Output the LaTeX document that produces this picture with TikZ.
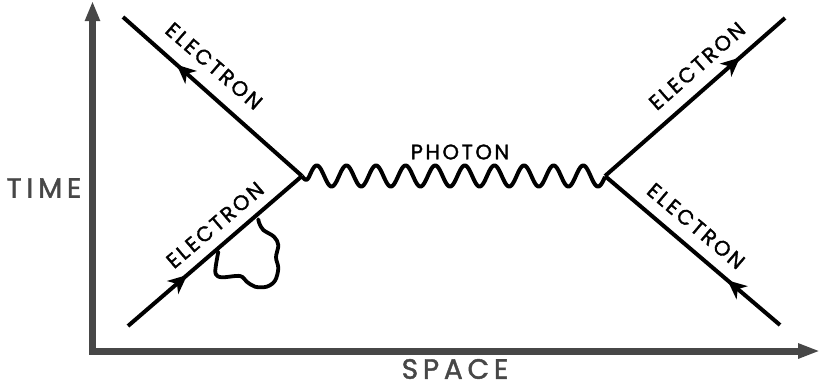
\documentclass[tikz,border=0pt]{standalone}
\usepackage{fontspec}
\setmainfont{Poppins}
\usetikzlibrary{arrows.meta,decorations.markings}
\newfontfamily\lblfont[LetterSpace=12,FakeBold=1.5]{Poppins}
\newfontfamily\axfont[LetterSpace=17,FakeBold=1.5]{Poppins}
\definecolor{axisgray}{HTML}{474747}
\begin{document}
\begin{tikzpicture}[x=1pt,y=-1pt,
 electron/.style={line width=4pt, black},
 elarrow/.style={postaction={decorate}, decoration={markings, mark=at position #1 with {\arrow{Stealth[length=19pt,width=17pt,inset=5.5pt]}}}},
 wave/.style={line width=4pt, black, line join=round},
 axis/.style={line width=7pt, axisgray},
 loopline/.style={line width=3.8pt, black, line join=round, line cap=round},
 lbl/.style={font=\lblfont\fontsize{21}{23}\selectfont, inner sep=0pt},
 axlbl/.style={font=\axfont\fontsize{28}{30}\selectfont, text=axisgray, inner sep=0pt},
]
\useasboundingbox (0,0) rectangle (821,383);
% axes
\coordinate (o) at (92.5,351);
\coordinate (yt) at (92.5,1);
\coordinate (xt) at (820,351);
\draw[axis, {Triangle[length=20pt,width=14pt]}-{Triangle[length=22pt,width=14pt]}] (yt) -- (o) -- (xt);
% vertices and ends
\coordinate (vL) at (302,176);
\coordinate (vR) at (605,176);
\coordinate (ul) at (123,17);
\coordinate (ll) at (128,326);
\coordinate (ur) at (785,18);
\coordinate (lr) at (780,325);
\draw[electron, elarrow=0.70] (vL) -- (ul);
\draw[electron, elarrow=0.34] (ll) -- (vL);
\draw[electron, elarrow=0.75] (vR) -- (ur);
\draw[electron, elarrow=0.30] (lr) -- (vR);
% photon
\begin{scope}[shift={(vL)}]
\draw[wave] plot[domain=0:303, samples=400] (\x, {-10.5*sin(12.1622*(\x-7.4))*min(1,\x/7.4)});
\end{scope}
% self-energy loop
\draw[loopline] plot[smooth, tension=0.55] coordinates {(218.3,251.7) (215.7,266.7) (215.7,274) (221.7,277.3) (240,276) (246.7,281.7) (255,286.7) (266.7,286.7) (275,280.7) (278.3,268.3) (276,257.3) (278.3,245) (274,236.7) (263.3,230) (259.3,223.3) (258.3,219.3)};
% labels
\node[lbl, rotate=-41] (lUL) at (214,66) {ELECTRON};
\node[lbl, rotate=40.4] (lLL) at (215,225) {ELECTRON};
\node[lbl, rotate=41.5] (lUR) at (697,66) {ELECTRON};
\node[lbl, rotate=-40.2] (lLR) at (696,226) {ELECTRON};
\node[lbl] (lPh) at (460,152) {PHOTON};
\node[axlbl] (lT) at (44,188) {TIME};
\node[axlbl] (lS) at (455,369) {SPACE};
\end{tikzpicture}
\end{document}
